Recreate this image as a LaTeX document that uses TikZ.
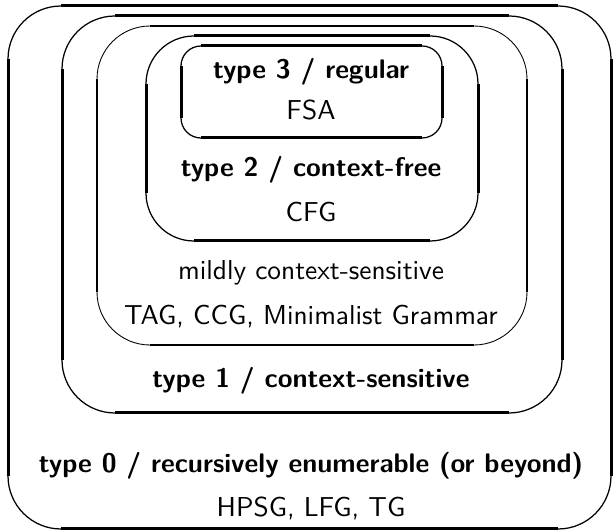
\documentclass[tikz,border=0pt]{standalone}
\begin{document}
\newcommand\gbox[7]{%
  \draw[line width=#7, rounded corners=#5*0.4pt] (#1,#2) rectangle (#3,#4);
  \draw[line width=#6] ({#1+#5},#2) -- ({#3-#5},#2);
  \draw[line width=#6] ({#1+#5},#4) -- ({#3-#5},#4);
  \draw[line width=#6] (#1,{#2+#5}) -- (#1,{#4-#5});
  \draw[line width=#6] (#3,{#2+#5}) -- (#3,{#4-#5});
}
\begin{tikzpicture}[x=0.4pt,y=-0.4pt,
  lbl/.style={anchor=base, inner sep=0pt, font=\sffamily\fontsize{10.95}{13}\selectfont},
  blbl/.style={lbl, font=\sffamily\bfseries\fontsize{10.75}{13}\selectfont}]
\useasboundingbox (0,0) rectangle (613,531);
\gbox{8}{6}{611}{529}{53}{1.2pt}{0.5pt}
\gbox{62}{16}{562}{413}{53}{1.2pt}{0.5pt}
\gbox{97}{26}{527}{345}{53}{0.85pt}{0.35pt}
\gbox{146}{36}{478}{241}{48}{1.2pt}{0.5pt}
\gbox{181}{46}{442}{138}{20}{1.2pt}{0.5pt}
\node[blbl] (t3) at (311,79) {type 3 / regular};
\node[lbl] (fsa) at (311,120) {FSA};
\node[blbl] (t2) at (311,177) {type 2 / context-free};
\node[lbl] (cfg) at (311,222) {CFG};
\node[lbl] (mcs) at (311,280) {mildly context-sensitive};
\node[lbl] (tag) at (311,325) {TAG, CCG, Minimalist Grammar};
\node[blbl] (t1) at (311,388) {type 1 / context-sensitive};
\node[blbl] (t0) at (311,473) {type 0 / recursively enumerable (or beyond)};
\node[lbl] (hpsg) at (311,517) {HPSG, LFG, TG};
\end{tikzpicture}
\end{document}
